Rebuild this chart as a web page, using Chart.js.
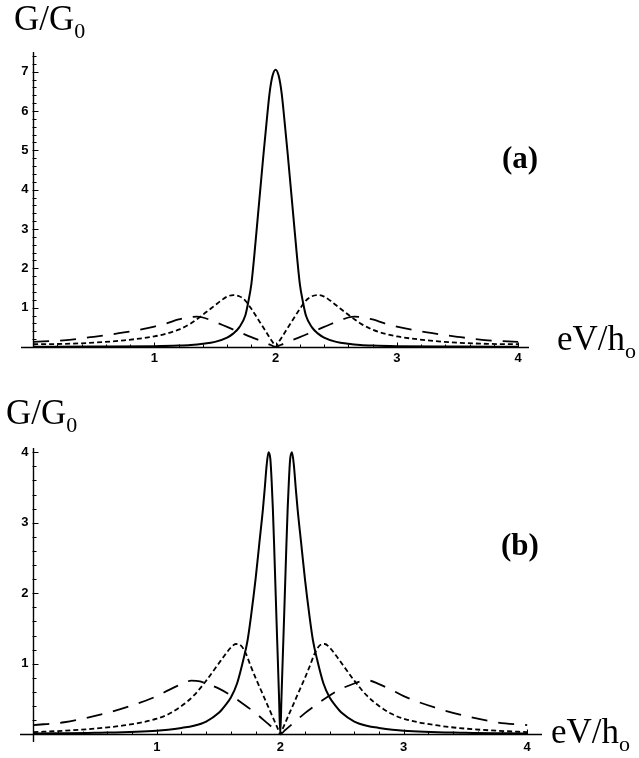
<!DOCTYPE html>
<html><head><meta charset="utf-8">
<script src="https://cdn.jsdelivr.net/npm/chart.js@4.4.0/dist/chart.umd.min.js"></script>
<style>
html,body{margin:0;padding:0;background:#fff;}
#fig{position:relative;width:639px;height:758px;overflow:hidden;background:#fff;}
canvas{position:absolute;left:0;}
.lbl{position:absolute;font-family:'Liberation Serif','Times New Roman',serif;color:#000;line-height:1;white-space:nowrap;font-size:35px;}
.lbl .s{font-size:22px;position:relative;top:8px;}
.tag{position:absolute;font-family:'Liberation Serif','Times New Roman',serif;font-weight:bold;font-size:31px;line-height:1;width:80px;text-align:center;}
</style></head>
<body>
<div id="fig">
<canvas id="ca" width="639" height="379" style="top:0"></canvas>
<canvas id="cb" width="639" height="379" style="top:379px"></canvas>
<div class="lbl" style="left:14px;top:1px">G/G<span class="s">0</span></div>
<div class="lbl" style="left:557px;top:321px">eV/h<span class="s">o</span></div>
<div class="lbl" style="left:6px;top:395px">G/G<span class="s">0</span></div>
<div class="lbl" style="left:551px;top:714px">eV/h<span class="s">o</span></div>
<div class="tag" style="left:480px;top:142px">(a)</div>
<div class="tag" style="left:480px;top:529px">(b)</div>
</div>
<script>
// ---------- data: panel (a) ----------
const xA_solid = [0,0.5,1.0,1.2,1.3,1.4,1.5,1.6,1.65,1.7,1.75,1.775,1.8,1.825,1.85,1.875,1.9,1.925,1.95,1.975,2.0,
  2.025,2.05,2.075,2.1,2.125,2.15,2.175,2.2,2.225,2.25,2.3,2.35,2.4,2.5,2.6,2.7,2.8,3.0,3.5,4.0];
const yA_solid = [0.005,0.01,0.02,0.035,0.05,0.08,0.13,0.24,0.34,0.5,0.8,1.15,1.6,2.35,3.2,4.05,4.9,5.7,6.45,6.9,7.05,
  6.9,6.45,5.7,4.9,4.05,3.2,2.35,1.6,1.15,0.8,0.5,0.34,0.24,0.13,0.08,0.05,0.035,0.02,0.01,0.005];
const xA_short = [0,0.25,0.5,0.75,1.0,1.1,1.2,1.3,1.4,1.5,1.55,1.6,1.65,1.7,1.75,1.8,1.85,1.9,1.95,1.98,2.0,
  2.02,2.05,2.1,2.15,2.2,2.25,2.3,2.35,2.4,2.45,2.5,2.6,2.7,2.8,2.9,3.0,3.25,3.5,3.75,4.0];
const yA_short = [0.07,0.08,0.11,0.17,0.27,0.34,0.44,0.6,0.82,1.06,1.18,1.28,1.32,1.29,1.18,0.97,0.73,0.49,0.24,0.1,0,
  0.1,0.24,0.49,0.73,0.97,1.18,1.29,1.32,1.28,1.18,1.06,0.82,0.6,0.44,0.34,0.27,0.17,0.11,0.08,0.07];
const xA_long = [0,0.25,0.5,0.75,1.0,1.1,1.2,1.3,1.35,1.4,1.5,1.6,1.7,1.8,1.9,1.96,2.0,
  2.04,2.1,2.2,2.3,2.4,2.5,2.6,2.65,2.7,2.8,2.9,3.0,3.25,3.5,3.75,4.0];
const yA_long = [0.13,0.17,0.26,0.37,0.52,0.6,0.7,0.76,0.77,0.75,0.64,0.51,0.38,0.25,0.13,0.05,0,
  0.05,0.13,0.25,0.38,0.51,0.64,0.75,0.77,0.76,0.7,0.6,0.52,0.37,0.26,0.17,0.13];

// ---------- data: panel (b) ----------
const xB_solid = [0,0.5,1.0,1.2,1.3,1.4,1.5,1.55,1.6,1.65,1.7,1.735,1.765,1.8,1.83,1.86,1.875,1.89,1.905,1.92,1.93,1.94,1.95,1.96,1.97,1.98,1.99,2.0,
  2.01,2.02,2.03,2.04,2.05,2.06,2.07,2.08,2.095,2.11,2.125,2.14,2.17,2.2,2.235,2.265,2.3,2.35,2.4,2.45,2.5,2.6,2.7,2.8,3.0,3.5,4.0];
const yB_solid = [0.01,0.02,0.05,0.09,0.12,0.18,0.3,0.4,0.52,0.72,1.05,1.33,1.7,2.2,2.7,3.2,3.5,3.82,4.0,3.9,3.6,3.2,2.7,2.15,1.6,1.07,0.53,0,
  0.53,1.07,1.6,2.15,2.7,3.2,3.6,3.9,4.0,3.82,3.5,3.2,2.7,2.2,1.7,1.33,1.05,0.72,0.52,0.4,0.3,0.18,0.12,0.09,0.05,0.02,0.01];
const xB_short = [0,0.25,0.5,0.75,1.0,1.1,1.2,1.3,1.4,1.5,1.55,1.6,1.64,1.68,1.72,1.76,1.8,1.85,1.9,1.95,1.98,2.0,
  2.02,2.05,2.1,2.15,2.2,2.24,2.28,2.32,2.36,2.4,2.45,2.5,2.6,2.7,2.8,2.9,3.0,3.25,3.5,3.75,4.0];
const yB_short = [0.03,0.05,0.08,0.13,0.22,0.29,0.4,0.55,0.76,1.0,1.12,1.23,1.28,1.26,1.15,0.97,0.8,0.6,0.4,0.2,0.08,0,
  0.08,0.2,0.4,0.6,0.8,0.97,1.15,1.26,1.28,1.23,1.12,1.0,0.76,0.55,0.4,0.29,0.22,0.13,0.08,0.05,0.03];
const xB_long = [0,0.25,0.5,0.75,1.0,1.1,1.2,1.28,1.35,1.4,1.5,1.6,1.7,1.8,1.9,1.96,2.0,
  2.04,2.1,2.2,2.3,2.4,2.5,2.6,2.65,2.72,2.8,2.9,3.0,3.25,3.5,3.75,4.0];
const yB_long = [0.13,0.17,0.26,0.38,0.54,0.63,0.71,0.76,0.75,0.72,0.65,0.55,0.43,0.3,0.15,0.06,0,
  0.06,0.15,0.3,0.43,0.55,0.65,0.72,0.75,0.76,0.71,0.63,0.54,0.38,0.26,0.17,0.13];

// ---------- tick labels ----------
const xTickValues = [1,2,3,4];
const yTickValuesA = [1,2,3,4,5,6,7];
const yTickValuesB = [1,2,3,4];

function pts(xs, ys){ return xs.map((x,i)=>({x:x, y:ys[i]})); }

const axesPlugin = {
  id: 'mmaAxes',
  afterDatasetsDraw(chart, args, o) {
    const ctx = chart.ctx, xs = chart.scales.x, ys = chart.scales.y, ca = chart.chartArea;
    const X0 = Math.round(xs.getPixelForValue(0)) + 0.5;
    const Y0 = Math.round(ys.getPixelForValue(0)) + 0.5;
    ctx.save();
    ctx.strokeStyle = '#000';
    ctx.lineWidth = 1.4;
    ctx.beginPath();
    ctx.moveTo(ca.left, Y0); ctx.lineTo(ca.right, Y0);
    ctx.moveTo(X0, ca.bottom); ctx.lineTo(X0, ca.top);
    ctx.stroke();
    ctx.lineWidth = 1;
    ctx.beginPath();
    for (let k = 1; k * 0.2 <= xs.max + 1e-9; k++) {
      const px = Math.round(xs.getPixelForValue(k * 0.2)) + 0.5;
      const len = (k % 5 === 0) ? 5 : 3;
      ctx.moveTo(px, Y0); ctx.lineTo(px, Y0 - len);
    }
    for (let k = 1; k * 0.2 <= ys.max + 1e-9; k++) {
      const py = Math.round(ys.getPixelForValue(k * 0.2)) + 0.5;
      const len = (k % 5 === 0) ? 5 : 3;
      ctx.moveTo(X0 - 1, py); ctx.lineTo(X0 + len, py);
    }
    ctx.stroke();
    ctx.fillStyle = '#000';
    ctx.font = 'bold 13px "Liberation Sans", Arial, sans-serif';
    ctx.textAlign = 'center'; ctx.textBaseline = 'middle';
    o.xTicks.forEach(v => ctx.fillText(String(v), xs.getPixelForValue(v), Y0 + o.xLabelGap));
    ctx.textAlign = 'right';
    o.yTicks.forEach(v => ctx.fillText(String(v), X0 - 5, ys.getPixelForValue(v)));
    ctx.restore();
  }
};

function makeChart(id, sets, xr, yr, pad, yTicks, xGap) {
  const styles = [
    {borderDash: [], borderWidth: 2},
    {borderDash: [5, 3], borderWidth: 1.8},
    {borderDash: [16, 11], borderWidth: 1.8}
  ];
  return new Chart(document.getElementById(id), {
    type: 'line',
    data: {
      datasets: sets.map((s, i) => ({
        label: s.label,
        data: pts(s.x, s.y),
        borderColor: '#000',
        borderWidth: styles[i].borderWidth,
        borderDash: styles[i].borderDash,
        pointRadius: 0,
        fill: false,
        cubicInterpolationMode: 'monotone'
      }))
    },
    options: {
      responsive: false,
      animation: false,
      layout: {padding: pad},
      plugins: {
        legend: {display: false},
        tooltip: {enabled: false},
        mmaAxes: {xTicks: xTickValues, yTicks: yTicks, xLabelGap: xGap}
      },
      scales: {
        x: {type: 'linear', min: xr[0], max: xr[1], display: false},
        y: {type: 'linear', min: yr[0], max: yr[1], display: false}
      }
    },
    plugins: [axesPlugin]
  });
}

makeChart('ca', [
  {label: 'solid', x: xA_solid, y: yA_solid},
  {label: 'short dash', x: xA_short, y: yA_short},
  {label: 'long dash', x: xA_long, y: yA_long}
], [-0.1, 4.09], [0, 7.5], {left: 21, right: 110, top: 52, bottom: 32}, yTickValuesA, 11);

makeChart('cb', [
  {label: 'solid', x: xB_solid, y: yB_solid},
  {label: 'short dash', x: xB_short, y: yB_short},
  {label: 'long dash', x: xB_long, y: yB_long}
], [-0.108, 4.12], [-0.11, 4.06], {left: 20, right: 97, top: 69, bottom: 16}, yTickValuesB, 13);
</script>
</body></html>
